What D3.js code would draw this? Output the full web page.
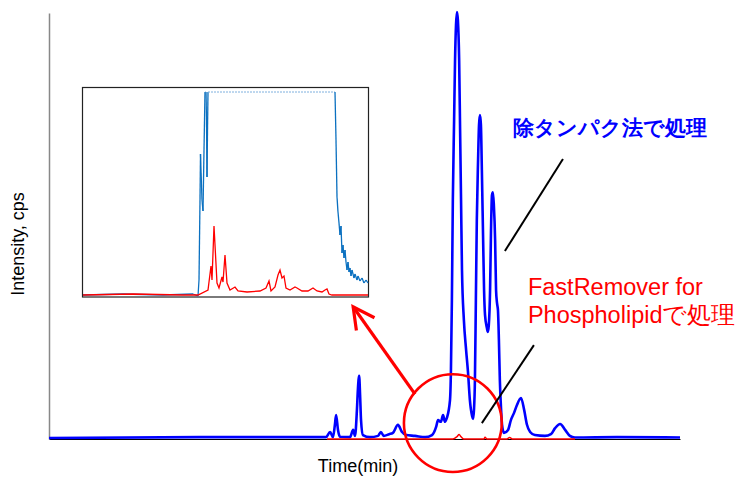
<!DOCTYPE html>
<html>
<head>
<meta charset="utf-8">
<script src="https://cdn.jsdelivr.net/npm/d3@7"></script>
<style>
body{margin:0;background:#fff;}
text{font-family:"Liberation Sans",Arial,sans-serif;}
</style>
</head>
<body>
<svg id="chart" width="738" height="477"></svg>
<script>
// main chromatogram: time (min) / intensity (relative)
var blueTime = [0,4.79,7.96,8.78,8.91,9.00,9.06,9.10,9.16,9.22,9.54,9.64,9.70,9.76,9.79,9.83,9.86,9.89,9.95,10.17,
  10.43,10.52,10.61,10.78,10.90,11.06,11.19,11.32,11.60,11.92,12.14,12.27,12.33,12.42,12.49,12.55,12.61,12.71,12.74,12.77,
  12.80,12.84,12.87,12.90,12.93,12.96,13.00,13.03,13.06,13.09,13.15,13.22,13.28,13.34,13.41,13.44,13.47,13.50,13.53,13.56,
  13.60,13.63,13.66,13.69,13.72,13.76,13.79,13.82,13.88,13.91,13.94,13.98,14.01,14.04,14.07,14.10,14.14,14.17,14.20,14.23,
  14.26,14.29,14.33,14.36,14.42,14.55,14.64,14.74,14.83,14.96,15.06,15.15,15.25,15.40,15.72,15.91,16.04,16.20,16.36,16.51,
  16.67,18.00,20.00];
var blueInt = [0,0.2,0.2,0.2,1.4,0.2,3.0,5.4,1.9,0.3,0.2,1.9,0.5,6.6,11.3,14.6,10.1,4.2,0.7,0.2,
  0.5,1.4,0.5,0.9,1.2,3.1,1.4,0.7,0.5,0.2,0.7,2.6,4.2,3.8,5.4,3.8,4.7,8.9,16.0,32.4,
  55.9,74.6,88.7,96.9,100,98.1,88.7,72.3,55.9,39.4,27.7,20.7,15.5,8.9,5.2,4.5,6.6,13.6,32.4,51.2,
  65.3,73.5,75.8,73.5,62.9,46.5,34.7,28.9,25.8,24.9,26.5,34.7,48.8,57.0,57.7,54.7,46.5,34.7,31.7,30.0,
  23.0,13.6,6.6,3.1,1.2,1.9,4.2,5.9,7.7,9.4,6.6,3.1,1.4,0.7,0.5,0.9,2.3,3.3,1.9,0.5,
  0.1,0.2,0.1];

var redTime = [8.81,12.80,12.93,13.00,13.06,13.15,13.79,13.82,13.88,14.50,14.60,14.70,16.67];
var redInt = [-0.25,-0.25,0.3,0.8,0.3,-0.25,-0.25,0.2,-0.25,-0.25,0.1,-0.25,-0.25];

// inset: zoom of the circled region
var insetBlueTime = [12.00,12.40,12.80,13.10,13.15,13.16,13.17,13.175,13.18,13.19,13.20,13.21,13.22,13.23,13.235,13.24,13.245,13.25,
  14.52,14.53,14.54,14.55,14.56,14.57,14.58,14.59,14.60,14.61,14.62,14.63,14.64,14.65,14.66,14.67,14.68,14.69,14.71,14.72,
  14.74,14.75,14.77,14.79,14.81,14.83,14.85];
var insetBlueInt = [0.01,0.02,0.01,0.02,0.00,0.16,0.96,1.42,1.26,0.96,0.85,1.46,2.04,2.04,1.76,1.19,1.66,2.04,
  2.04,1.56,0.99,0.84,0.73,0.61,0.70,0.43,0.51,0.38,0.46,0.34,0.26,0.34,0.24,0.28,0.20,0.26,0.18,0.22,
  0.16,0.20,0.15,0.18,0.13,0.16,0.13];

var insetRedTime = [12.00,12.50,13.00,13.15,13.25,13.28,13.29,13.31,13.34,13.36,13.39,13.40,13.42,13.44,13.47,13.52,13.55,13.64,
  13.77,13.83,13.86,13.88,13.92,13.95,13.97,13.99,14.01,14.03,14.07,14.12,14.14,14.19,14.25,14.30,14.34,14.39,14.42,14.44,
  14.46,14.49,14.85];
var insetRedInt = [0.01,0.02,0.01,0.01,0.06,0.30,0.16,0.70,0.13,0.08,0.19,0.14,0.41,0.13,0.06,0.09,0.05,0.04,
  0.05,0.08,0.15,0.05,0.09,0.21,0.26,0.18,0.20,0.08,0.06,0.09,0.08,0.05,0.05,0.08,0.05,0.04,0.06,0.07,
  0.02,0.01,0.01];

var blueLabel = "除タンパク法で処理";
var redLabel = ["FastRemover for", "Phospholipidで処理"];
var xTitle = "Time(min)";
var yTitle = "Intensity, cps";

var svg = d3.select("#chart");

var x = d3.scaleLinear().domain([0, 20]).range([49, 680]);
var y = d3.scaleLinear().domain([0, 100]).range([438, 12]);

// axes (no ticks)
svg.append("g")
   .attr("transform", "translate(0,439)")
   .call(d3.axisBottom(x).ticks(0).tickSizeOuter(0))
   .select(".domain").attr("stroke", "#000").attr("stroke-width", 1.2);

svg.append("g")
   .attr("transform", "translate(49,0)")
   .call(d3.axisLeft(y.copy().range([439, 13])).ticks(0).tickSizeOuter(0))
   .select(".domain").attr("stroke", "#888").attr("stroke-width", 1.5);

var mainLine = d3.line()
                 .x(d => x(d[0]))
                 .y(d => y(d[1]))
                 .curve(d3.curveMonotoneX);

svg.append("path")
   .datum(d3.zip(blueTime, blueInt))
   .attr("d", mainLine)
   .attr("fill", "none")
   .attr("stroke", "#0000ff")
   .attr("stroke-width", 2.6)
   .attr("stroke-linejoin", "round");

svg.append("path")
   .datum(d3.zip(redTime, redInt))
   .attr("d", mainLine)
   .attr("fill", "none")
   .attr("stroke", "#ff0000")
   .attr("stroke-width", 1.5);

svg.append("text")
   .attr("x", 358).attr("y", 472)
   .attr("text-anchor", "middle")
   .attr("font-size", 18)
   .text(xTitle);

svg.append("text")
   .attr("transform", "translate(24,244) rotate(-90)")
   .attr("text-anchor", "middle")
   .attr("font-size", 18)
   .text(yTitle);

// inset
var xi = d3.scaleLinear().domain([12.00, 14.85]).range([83, 368]);
var yi = d3.scaleLinear().domain([0, 2.04]).range([296, 92]);

var inset = svg.append("g");
inset.append("rect")
     .attr("x", 82.5).attr("y", 87.5)
     .attr("width", 286).attr("height", 209.5)
     .attr("fill", "#fff")
     .attr("stroke", "#222")
     .attr("stroke-width", 1.2);

var insetLine = d3.line().x(d => xi(d[0])).y(d => yi(d[1]));

var ib = d3.zip(insetBlueTime, insetBlueInt);
var segs = d3.pairs(ib);
var sat = d => d[0][1] >= 2.04 && d[1][1] >= 2.04;
inset.selectAll("line.ib")
     .data(segs)
     .enter()
     .append("line")
     .attr("x1", d => xi(d[0][0])).attr("y1", d => yi(d[0][1]))
     .attr("x2", d => xi(d[1][0])).attr("y2", d => yi(d[1][1]))
     .attr("stroke", d => sat(d) ? "#7fb0de" : "#0a70c0")
     .attr("stroke-width", d => sat(d) ? 1 : 1.3)
     .attr("stroke-dasharray", d => sat(d) ? "2,1" : null);

inset.append("path")
     .datum(d3.zip(insetRedTime, insetRedInt))
     .attr("d", insetLine)
     .attr("fill", "none")
     .attr("stroke", "#ff0000")
     .attr("stroke-width", 1.3);

// annotations (data coords)
var circ = {t: 12.80, v: 3.5, rt: 1.55};
svg.append("circle")
   .attr("cx", x(circ.t)).attr("cy", y(circ.v))
   .attr("r", x(circ.t + circ.rt) - x(circ.t))
   .attr("fill", "none")
   .attr("stroke", "#ff0000")
   .attr("stroke-width", 2.6);

var arrowFrom = [11.60, 10.3], arrowTo = [9.64, 30.8];
var ax1 = x(arrowFrom[0]), ay1 = y(arrowFrom[1]), ax2 = x(arrowTo[0]), ay2 = y(arrowTo[1]);
var ang = Math.atan2(ay1 - ay2, ax1 - ax2), hl = 24, ha = 0.48;
svg.append("line")
   .attr("x1", ax1).attr("y1", ay1).attr("x2", ax2).attr("y2", ay2)
   .attr("stroke", "#ff0000").attr("stroke-width", 3.2);
svg.append("polyline")
   .attr("points", [[ax2 + hl*Math.cos(ang - ha), ay2 + hl*Math.sin(ang - ha)], [ax2, ay2],
                    [ax2 + hl*Math.cos(ang + ha), ay2 + hl*Math.sin(ang + ha)]].join(" "))
   .attr("fill", "none").attr("stroke", "#ff0000").attr("stroke-width", 3.2);

var callouts = [[[16.29, 65.5], [14.45, 43.9]], [[15.37, 21.8], [13.72, 3.5]]];
svg.selectAll("line.callout")
   .data(callouts)
   .enter()
   .append("line")
   .attr("x1", d => x(d[0][0])).attr("y1", d => y(d[0][1]))
   .attr("x2", d => x(d[1][0])).attr("y2", d => y(d[1][1]))
   .attr("stroke", "#000").attr("stroke-width", 2);

svg.append("text")
   .attr("x", x(14.71)).attr("y", y(71.1))
   .attr("font-family", "'Noto Sans CJK JP', sans-serif")
   .attr("font-size", 20.8)
   .attr("font-weight", "bold")
   .attr("fill", "#0000ff")
   .text(blueLabel);

svg.selectAll("text.red")
   .data(redLabel)
   .enter()
   .append("text")
   .attr("x", x(15.18))
   .attr("y", (d, i) => y(33.6) + i * 28)
   .attr("font-size", 23.5)
   .attr("fill", "#ff0000")
   .text(d => d);
</script>
</body>
</html>
